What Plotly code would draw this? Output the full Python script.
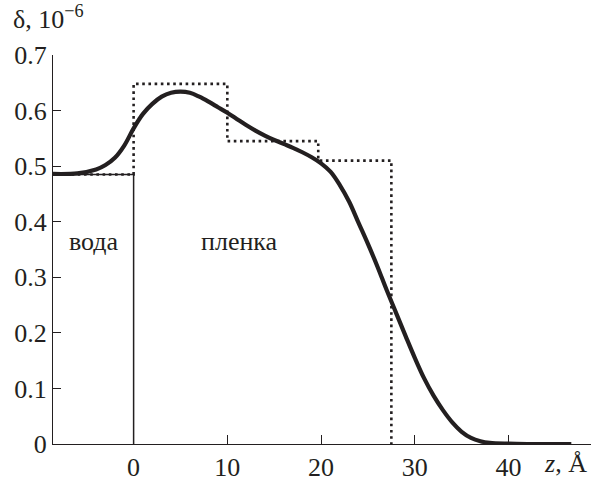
import plotly.graph_objects as go

# smooth profile
z_curve = [-8.6, -6, -4, -3, -2, -1, 0, 1, 2, 3, 4, 5, 6, 7, 8, 9, 10, 11, 12, 13, 14, 15, 16, 17, 18, 19, 20,
           21, 22, 23, 24, 25, 26, 27, 28, 29, 30, 31, 32, 33, 34, 35, 36, 37, 38, 40, 42, 46.7]
d_curve = [0.486, 0.487, 0.494, 0.502, 0.515, 0.537, 0.568, 0.594, 0.612, 0.625, 0.632, 0.634, 0.632, 0.625,
           0.616, 0.606, 0.596, 0.585, 0.574, 0.564, 0.555, 0.547, 0.540, 0.533, 0.525, 0.516, 0.505,
           0.490, 0.466, 0.436, 0.398, 0.360, 0.320, 0.277, 0.236, 0.195, 0.155, 0.118, 0.087, 0.061,
           0.039, 0.022, 0.011, 0.005, 0.002, 0.0005, 0.0, 0.0]

# box model (dotted)
z_box = [-8.6, 0, 0, 10, 10, 19.7, 19.7, 27.5, 27.5]
d_box = [0.485, 0.485, 0.648, 0.648, 0.545, 0.545, 0.510, 0.510, 0.0]

# water (thin solid)
z_water = [-8.6, 0, 0]
d_water = [0.485, 0.485, 0.0]

x_ticks = [0, 10, 20, 30, 40]
y_ticks = [0, 0.1, 0.2, 0.3, 0.4, 0.5, 0.6, 0.7]
y_ticklabels = ["0", "0.1", "0.2", "0.3", "0.4", "0.5", "0.6", "0.7"]

FONT = "'Liberation Serif', 'Times New Roman', Times, serif"
INK = "#231f20"
FS = 26

fig = go.Figure()
fig.add_trace(go.Scatter(x=z_water, y=d_water, mode="lines",
                         line=dict(color=INK, width=1.5), hoverinfo="skip"))
fig.add_trace(go.Scatter(x=z_box, y=d_box, mode="lines",
                         line=dict(color=INK, width=2.6, dash="2.6px,3.6px"), hoverinfo="skip"))
fig.add_trace(go.Scatter(x=z_curve, y=d_curve, mode="lines", line_shape="spline",
                         line=dict(color=INK, width=4.2), hoverinfo="skip"))

fig.update_layout(
    width=591, height=482,
    margin=dict(l=53, r=0, t=55, b=32),
    paper_bgcolor="white", plot_bgcolor="white",
    showlegend=False,
    font=dict(family=FONT, size=FS, color=INK),
    xaxis=dict(range=[-8.6, 48.8], tickvals=x_ticks, ticks="inside", ticklen=9,
               tickwidth=1.3, tickcolor=INK, showline=True, linecolor=INK,
               linewidth=1.3, showgrid=False, zeroline=False,
               tickfont=dict(family=FONT, size=FS, color=INK)),
    yaxis=dict(range=[0, 0.7], tickvals=y_ticks, ticktext=y_ticklabels, ticks="inside",
               ticklen=8, tickwidth=1.3, tickcolor=INK, showline=True,
               linecolor=INK, linewidth=1.3, showgrid=False, zeroline=False,
               tickfont=dict(family=FONT, size=FS, color=INK)),
)

fig.add_annotation(x=-4.25, y=0.364, xref="x", yref="y", text="вода", showarrow=False,
                   font=dict(family=FONT, size=FS, color=INK))
fig.add_annotation(x=11.3, y=0.364, xref="x", yref="y", text="пленка", showarrow=False,
                   font=dict(family=FONT, size=FS, color=INK))
fig.add_annotation(x=0, y=1.0, xref="paper", yref="paper", yshift=56, xshift=-42,
                   text="δ, 10<sup>−6</sup>", showarrow=False, xanchor="left", yanchor="top",
                   font=dict(family=FONT, size=FS, color=INK))
fig.add_annotation(x=1.0, y=0, xref="paper", yref="paper", yshift=-3, xshift=-2,
                   text="<i>z</i>, Å", showarrow=False, xanchor="right", yanchor="top",
                   font=dict(family=FONT, size=FS, color=INK))

fig.write_html("out.html")
